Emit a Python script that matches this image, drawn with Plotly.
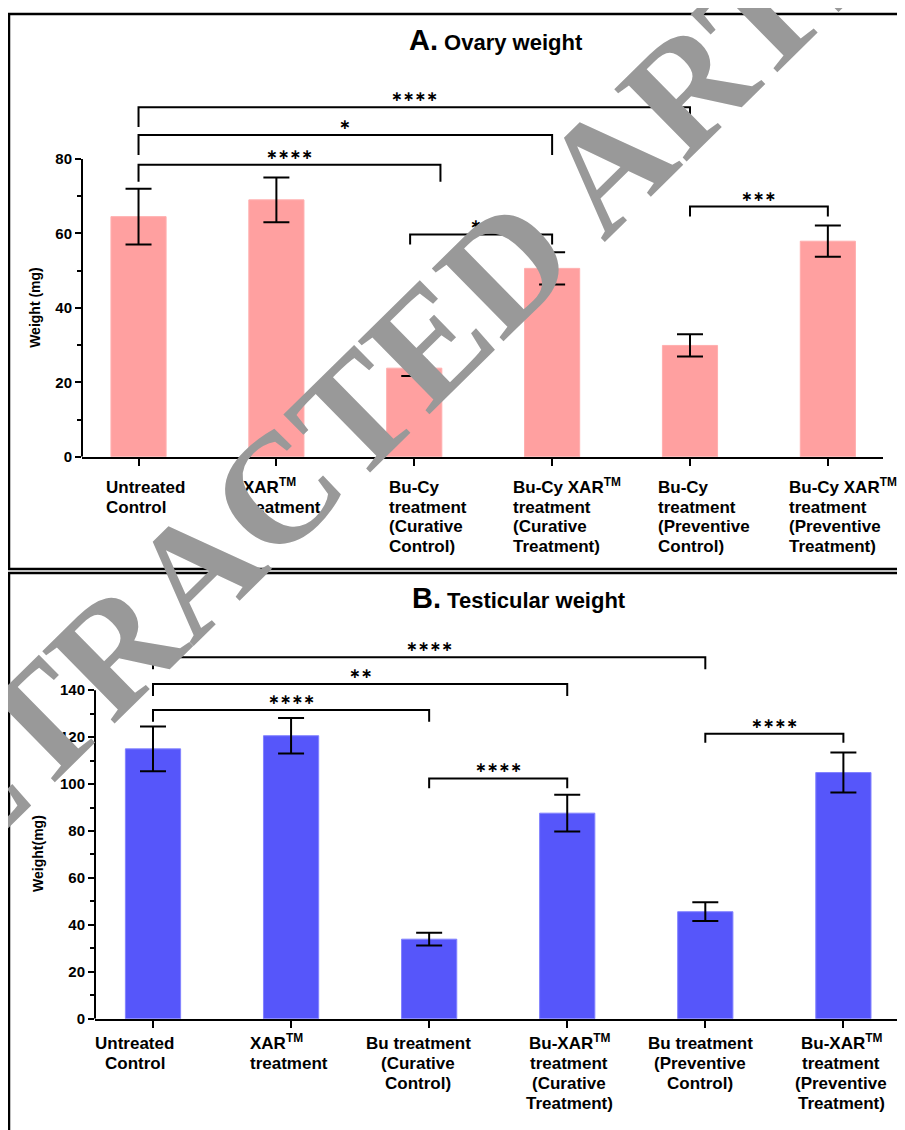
import plotly.graph_objects as go

# page pixels of the reference; the browser body adds an 8px margin
W, H = 905, 1130
OFF = 8
FW, FH = W - OFF, H - OFF

# ---------------- data ----------------
labels_A = ["Untreated<br>Control", "XAR<sup>TM</sup><br>treatment",
            "Bu-Cy<br>treatment<br>(Curative<br>Control)",
            "Bu-Cy XAR<sup>TM</sup><br>treatment<br>(Curative<br>Treatment)",
            "Bu-Cy<br>treatment<br>(Preventive<br>Control)",
            "Bu-Cy XAR<sup>TM</sup><br>treatment<br>(Preventive<br>Treatment)"]
ovary_mean = [64.5, 69.0, 23.8, 50.6, 29.9, 57.9]
ovary_err = [7.5, 6.0, 2.1, 4.3, 3.0, 4.2]
yticks_A = [0, 20, 40, 60, 80]
yminor_A = [10, 30, 50, 70]
# (left group, right group, bracket level, label)
brackets_A = [(0, 4, 93.9, "∗∗∗∗"), (0, 3, 86.4, "∗"), (0, 2.19, 78.4, "∗∗∗∗"),
              (1.97, 3, 59.7, "∗∗"), (4, 5, 67.2, "∗∗∗")]

labels_B = ["Untreated<br>Control", "XAR<sup>TM</sup><br>treatment",
            "Bu treatment<br>(Curative<br>Control)",
            "Bu-XAR<sup>TM</sup><br>treatment<br>(Curative<br>Treatment)",
            "Bu treatment<br>(Preventive<br>Control)",
            "Bu-XAR<sup>TM</sup><br>treatment<br>(Preventive<br>Treatment)"]
testis_mean = [115.0, 120.6, 33.9, 87.6, 45.6, 104.9]
testis_err = [9.5, 7.6, 2.7, 7.8, 4.0, 8.5]
yticks_B = [0, 20, 40, 60, 80, 100, 120, 140]
yminor_B = [10, 30, 50, 70, 90, 110, 130]
brackets_B = [(0, 4, 154.0, "∗∗∗∗"), (0, 3, 142.6, "∗∗"), (0, 2, 131.6, "∗∗∗∗"),
              (2, 3, 102.4, "∗∗∗∗"), (4, 5, 121.4, "∗∗∗∗")]

# ---------------- styles ----------------
leg_px_A = [20, 20, 17, 10, 10]
leg_px_B = [12, 12, 12, 10, 9]
pxunit_A = 3.75
pxunit_B = 2.364
shift_A = [-35, -35, -27, -41, -34, -41]
anchor_B = ["center", "left", "center", "center", "center", "center"]
shift_B = [-18, -43, -11, 2, -5, -2]

FONT = "Liberation Sans, Arial, sans-serif"
COL_A = "rgb(255,160,160)"
COL_B = "rgb(86,86,250)"


def px(x):
    return (x - OFF) / FW


def py(y):
    return 1 - (y - OFF) / FH


fig = go.Figure()
fig.add_trace(go.Bar(x=list(range(len(ovary_mean))), y=ovary_mean, width=0.4,
                     marker=dict(color=COL_A, line=dict(color="rgb(255,175,175)", width=1)),
                     error_y=dict(type="data", array=ovary_err, color="black", thickness=2, width=13),
                     xaxis="x", yaxis="y", showlegend=False))
fig.add_trace(go.Bar(x=list(range(len(testis_mean))), y=testis_mean, width=0.4,
                     marker=dict(color=COL_B, line=dict(color="rgb(130,130,255)", width=1)),
                     error_y=dict(type="data", array=testis_err, color="black", thickness=2, width=13),
                     xaxis="x2", yaxis="y2", showlegend=False))

tickfont = dict(family=FONT, size=15, color="black", weight="bold")
xcommon = dict(tickmode="array", tickvals=list(range(6)), showticklabels=False,
               ticks="outside", ticklen=7, tickwidth=2, tickcolor="black",
               showline=True, linewidth=2, linecolor="black", showgrid=False, zeroline=False)

fig.update_layout(
    width=FW, height=FH, margin=dict(l=0, r=0, t=0, b=0),
    paper_bgcolor="white", plot_bgcolor="white",
    xaxis=dict(domain=[px(82), px(883)], range=[-0.41, 5.4], anchor="y", **xcommon),
    yaxis=dict(domain=[py(460), py(85)], range=[0, 100], anchor="x",
               tickmode="array", tickvals=yticks_A, ticks="outside", ticklen=6, tickwidth=2,
               tickcolor="black", tickfont=tickfont, showline=False, showgrid=False, zeroline=False,
               minor=dict(tickmode="array", tickvals=yminor_A, ticks="outside", ticklen=4,
                          tickwidth=2, tickcolor="black")),
    xaxis2=dict(domain=[px(95), px(900)], range=[-0.42, 5.41], anchor="y2", **xcommon),
    yaxis2=dict(domain=[py(1026), py(636)], range=[0, 165], anchor="x2",
                tickmode="array", tickvals=yticks_B, ticks="outside", ticklen=6, tickwidth=2,
                tickcolor="black", tickfont=tickfont, showline=False, showgrid=False, zeroline=False,
                minor=dict(tickmode="array", tickvals=yminor_B, ticks="outside", ticklen=4,
                           tickwidth=2, tickcolor="black")),
)

shapes = []
annos = []

# y axis lines (only up to the top tick)
shapes.append(dict(type="line", xref="x domain", yref="y", x0=0, x1=0,
                   y0=yticks_A[0], y1=yticks_A[-1], line=dict(color="black", width=2)))
shapes.append(dict(type="line", xref="x2 domain", yref="y2", x0=0, x1=0,
                   y0=yticks_B[0], y1=yticks_B[-1], line=dict(color="black", width=2)))

# panel frames
shapes.append(dict(type="rect", xref="paper", yref="paper", x0=px(9), x1=1.02,
                   y0=py(573), y1=py(14), line=dict(color="black", width=2.5)))
shapes.append(dict(type="rect", xref="paper", yref="paper", x0=px(9), x1=1.02,
                   y0=-0.02, y1=py(577), line=dict(color="black", width=2.5)))


# significance brackets
def add_brackets(brs, legs, unit, xr, yr):
    for (a, b, lvl, txt), leg in zip(brs, legs):
        yb = lvl - leg / unit
        shapes.append(dict(type="path", xref=xr, yref=yr,
                           path=f"M {a},{yb} L {a},{lvl} L {b},{lvl} L {b},{yb}",
                           line=dict(color="black", width=2)))
        annos.append(dict(x=(a + b) / 2, y=lvl, xref=xr, yref=yr, text=txt, showarrow=False,
                          xanchor="center", yanchor="bottom", yshift=1,
                          font=dict(family="DejaVu Sans", size=14, color="black", weight="bold")))


add_brackets(brackets_A, leg_px_A, pxunit_A, "x", "y")
add_brackets(brackets_B, leg_px_B, pxunit_B, "x2", "y2")

# category labels, line by line
lab_font = dict(family=FONT, size=17, color="black", weight="bold")


def add_labels(labels, xr, base0, step, anchors, shifts):
    for i, lab in enumerate(labels):
        for j, line in enumerate(lab.split("<br>")):
            base = base0 + j * step
            annos.append(dict(x=i, y=py(base + 10), xref=xr, yref="paper", text=line,
                              showarrow=False, xanchor=anchors[i], yanchor="bottom",
                              xshift=shifts[i], font=lab_font))


add_labels(labels_A, "x", 493, 19.5, ["left"] * 6, shift_A)
add_labels(labels_B, "x2", 1053, 20, anchor_B, shift_B)

# y axis titles
annos.append(dict(x=px(35), y=py(310), xref="paper", yref="paper", text="Weight (mg)",
                  textangle=-90, showarrow=False, xanchor="center", yanchor="middle",
                  font=dict(family=FONT, size=14, color="black", weight="bold")))
annos.append(dict(x=px(38), y=py(860), xref="paper", yref="paper", text="Weight(mg)",
                  textangle=-90, showarrow=False, xanchor="center", yanchor="middle",
                  font=dict(family=FONT, size=14, color="black", weight="bold")))

# panel titles
annos.append(dict(x=px(496), y=py(40), xref="paper", yref="paper",
                  text="<span style='font-size:29px'>A.</span> Ovary weight", showarrow=False,
                  xanchor="center", yanchor="middle",
                  font=dict(family=FONT, size=22, color="black", weight="bold")))
annos.append(dict(x=px(519), y=py(602), xref="paper", yref="paper",
                  text="<span style='font-size:29px'>B.</span> Testicular weight", showarrow=False,
                  xanchor="center", yanchor="middle",
                  font=dict(family=FONT, size=22, color="black", weight="bold")))

# watermark
annos.append(dict(x=px(458), y=py(315), xref="paper", yref="paper", text="RETRACTED ARTICLE",
                  textangle=-44.5, showarrow=False, xanchor="center", yanchor="middle",
                  font=dict(family="Liberation Serif, Times New Roman, serif", size=156,
                            color="rgb(153,153,153)", weight="bold")))

fig.update_layout(shapes=shapes, annotations=annos)
fig.write_html("out.html")
